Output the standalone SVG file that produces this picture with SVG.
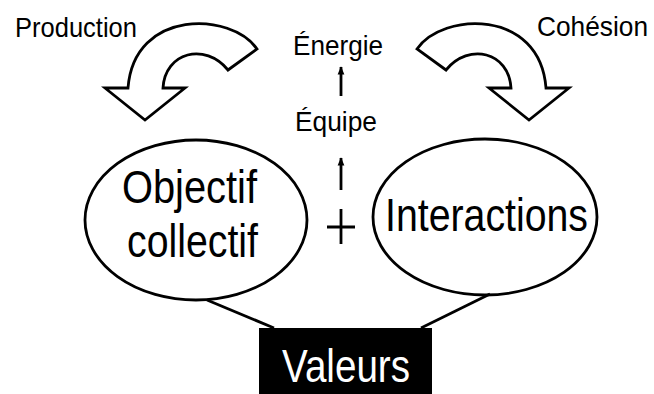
<svg xmlns="http://www.w3.org/2000/svg" width="654" height="394" viewBox="0 0 654 394">
<defs>
<style>
.t{font-family:"Liberation Sans",Arial,sans-serif;fill:#000}
.s{font-size:28px}
.b{font-size:47px}
.shape{fill:#fff;stroke:#000;stroke-width:2.8;stroke-linejoin:miter}
.ln{stroke:#000;stroke-width:2.8;fill:none}
</style>
<marker id="ah" viewBox="0 0 10 10" refX="9" refY="5" markerWidth="3" markerHeight="4" orient="auto" markerUnits="strokeWidth">
<path d="M0,1 L10,5 L0,9 Z" fill="#000"/>
</marker>
<path id="carrow" d="M257,49 C232,12 134,8 128,88 L105,88 L145,120 L185,88 L163,88 C165,52 205,42 228,70 Z"/>
</defs>
<rect width="654" height="394" fill="#fff"/>
<g id="production">
<use href="#carrow" class="shape"/>
<text class="t s" x="15" y="37" textLength="122" lengthAdjust="spacingAndGlyphs">Production</text>
</g>
<g id="cohesion">
<use href="#carrow" class="shape" transform="translate(674,0) scale(-1,1)"/>
<text class="t s" x="537" y="36" textLength="111" lengthAdjust="spacingAndGlyphs">Cohésion</text>
</g>
<g id="energie">
<text class="t s" x="293" y="55" textLength="90" lengthAdjust="spacingAndGlyphs">Énergie</text>
</g>
<g id="equipe">
<text class="t s" x="295" y="131" textLength="82" lengthAdjust="spacingAndGlyphs">Équipe</text>
</g>
<g id="objectif">
<ellipse class="shape" cx="196" cy="220" rx="111" ry="80"/>
<text class="t b" x="122" y="203" textLength="135" lengthAdjust="spacingAndGlyphs">Objectif</text>
<text class="t b" x="127" y="257" textLength="131" lengthAdjust="spacingAndGlyphs">collectif</text>
</g>
<g id="plus">
<path class="ln" d="M327,227 H355 M341,209 V244"/>
</g>
<g id="interactions">
<ellipse class="shape" cx="485" cy="217" rx="112" ry="78"/>
<text class="t b" x="385" y="231" textLength="203" lengthAdjust="spacingAndGlyphs">Interactions</text>
</g>
<g id="valeurs">
<rect x="259" y="328" width="173" height="66" fill="#000"/>
<text class="t b" x="282" y="382" textLength="128" lengthAdjust="spacingAndGlyphs" style="fill:#fff">Valeurs</text>
</g>
<g id="connectors">
<line class="ln" x1="341" y1="96" x2="341" y2="67" stroke-width="2.5" marker-end="url(#ah)"/>
<line class="ln" x1="341" y1="190" x2="341" y2="158" stroke-width="2.5" marker-end="url(#ah)"/>
<line class="ln" x1="207" y1="300" x2="274" y2="328"/>
<line class="ln" x1="490" y1="294" x2="421" y2="328"/>
</g>
</svg>
